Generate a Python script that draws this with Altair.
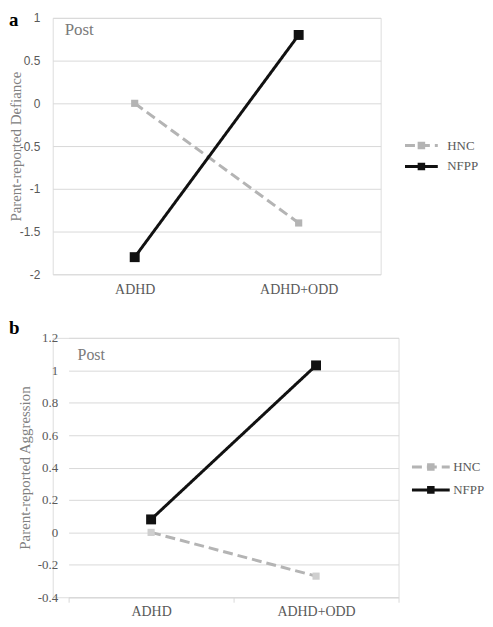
import altair as alt
import pandas as pd

groups = ["ADHD", "ADHD+ODD"]
series_names = ["HNC", "NFPP"]
defiance_hnc = [0.0, -1.4]
defiance_nfpp = [-1.8, 0.8]
aggression_hnc = [0.0, -0.27]
aggression_nfpp = [0.08, 1.03]
defiance_ticks = [-2, -1.5, -1, -0.5, 0, 0.5, 1]
aggression_ticks = [-0.4, -0.2, 0, 0.2, 0.4, 0.6, 0.8, 1, 1.2]

SERIF = "Liberation Serif"
SANS = "Liberation Sans"
GRID = "#d9d9d9"
TXT = "#595959"


def panel(hnc, nfpp, ytitle, ticks, letter, let_x, let_y, W, H, x0, tick_font, tick_size,
          label_pad, title_x, show_xticks, xlab_pad, leg_x, leg_y, leg_w, label_off,
          row_pad, hnc_marker, post_x, post_y, post_size):
    df = pd.DataFrame({
        "group": groups * 2,
        "series": [series_names[0]] * 2 + [series_names[1]] * 2,
        "value": hnc + nfpp,
    })
    half = leg_w / 21.0
    sym = (f"M-{half:.3f},0H{half:.3f}"
           "M-0.36,-0.22H0.36M-0.36,0H0.36M-0.36,0.22H0.36")
    legend = alt.Legend(
        title=None, orient="none", legendX=leg_x, legendY=leg_y,
        symbolType=sym, symbolSize=441, symbolStrokeWidth=3,
        labelFont=SERIF, labelFontSize=13, labelColor=TXT,
        labelOffset=label_off, rowPadding=row_pad, padding=0,
    )
    color = alt.Color("series:N", scale=alt.Scale(domain=series_names, range=["#b4b4b4", "#111111"]),
                      legend=legend)
    dash = alt.StrokeDash("series:N", scale=alt.Scale(domain=series_names, range=[[10, 5], [1, 0]]),
                          legend=legend)
    x = alt.X("group:N", sort=groups, scale=alt.Scale(paddingInner=0, paddingOuter=0, range=[x0, W]),
              axis=alt.Axis(title=None, labelAngle=0, labelFont=SERIF, labelFontSize=14,
                            labelColor=TXT, labelPadding=xlab_pad,
                            domain=show_xticks, domainColor=GRID, ticks=show_xticks,
                            tickColor=GRID, tickSize=5, tickBand="extent", grid=False))
    y = alt.Y("value:Q", scale=alt.Scale(domain=[ticks[0], ticks[-1]], nice=False, zero=False),
              axis=alt.Axis(title=ytitle, values=ticks, labelExpr="datum.value + ''",
                            labelFont=tick_font, labelFontSize=tick_size, labelColor=TXT,
                            labelPadding=label_pad, ticks=False, domain=False,
                            gridColor=GRID, gridWidth=1, offset=-x0,
                            titleFont=SERIF, titleFontSize=15, titleFontWeight="normal",
                            titleColor="#808080", titleX=title_x))
    base = alt.Chart(df)
    lines = base.mark_line(strokeWidth=3).encode(x=x, y=y, color=color, strokeDash=dash)
    pts_h = base.transform_filter(alt.datum.series == series_names[0]).mark_square(
        size=52, opacity=1, color=hnc_marker).encode(x=x, y=y)
    pts_n = base.transform_filter(alt.datum.series == series_names[1]).mark_square(
        size=100, opacity=1, color="#111111").encode(x=x, y=y)
    post = alt.Chart(pd.DataFrame({"t": ["Post"]})).mark_text(
        font=SERIF, fontSize=post_size, color="#7a7a7a", align="left", baseline="middle"
    ).encode(x=alt.value(post_x), y=alt.value(post_y), text="t:N")
    let = alt.Chart(pd.DataFrame({"t": [letter]})).mark_text(
        font=SERIF, fontSize=19, fontWeight="bold", color="#000000", align="left", baseline="top"
    ).encode(x=alt.value(let_x), y=alt.value(let_y), text="t:N")
    return alt.layer(lines, pts_h, pts_n, post, let).properties(width=W, height=H)


pa = panel(defiance_hnc, defiance_nfpp, "Parent-reported Defiance", defiance_ticks, "a", -44, -7,
           330, 258, 0, SANS, 12, 13, -29, False, 8, 359, 116.5, 33, 14, 0, "#b4b4b4", 12, 12, 17)
pb = panel(aggression_hnc, aggression_nfpp, "Parent-reported Aggression", aggression_ticks, "b", -44, -19,
           348, 261, 16, SERIF, 13, 11, -36, True, 2, 368.5, 118, 38, 10.5, 2, "#cfcfcf", 25, 17, 16)

chart = alt.vconcat(pa, pb, spacing=21).resolve_scale(
    color="independent", strokeDash="independent",
    x="independent", y="independent"
).properties(padding=0).configure_view(stroke=None).configure_legend(
    labelFont=SERIF, labelFontSize=13, labelColor=TXT
).configure(background="white")

chart.save("out.html", embed_options={"renderer": "svg", "actions": False})
